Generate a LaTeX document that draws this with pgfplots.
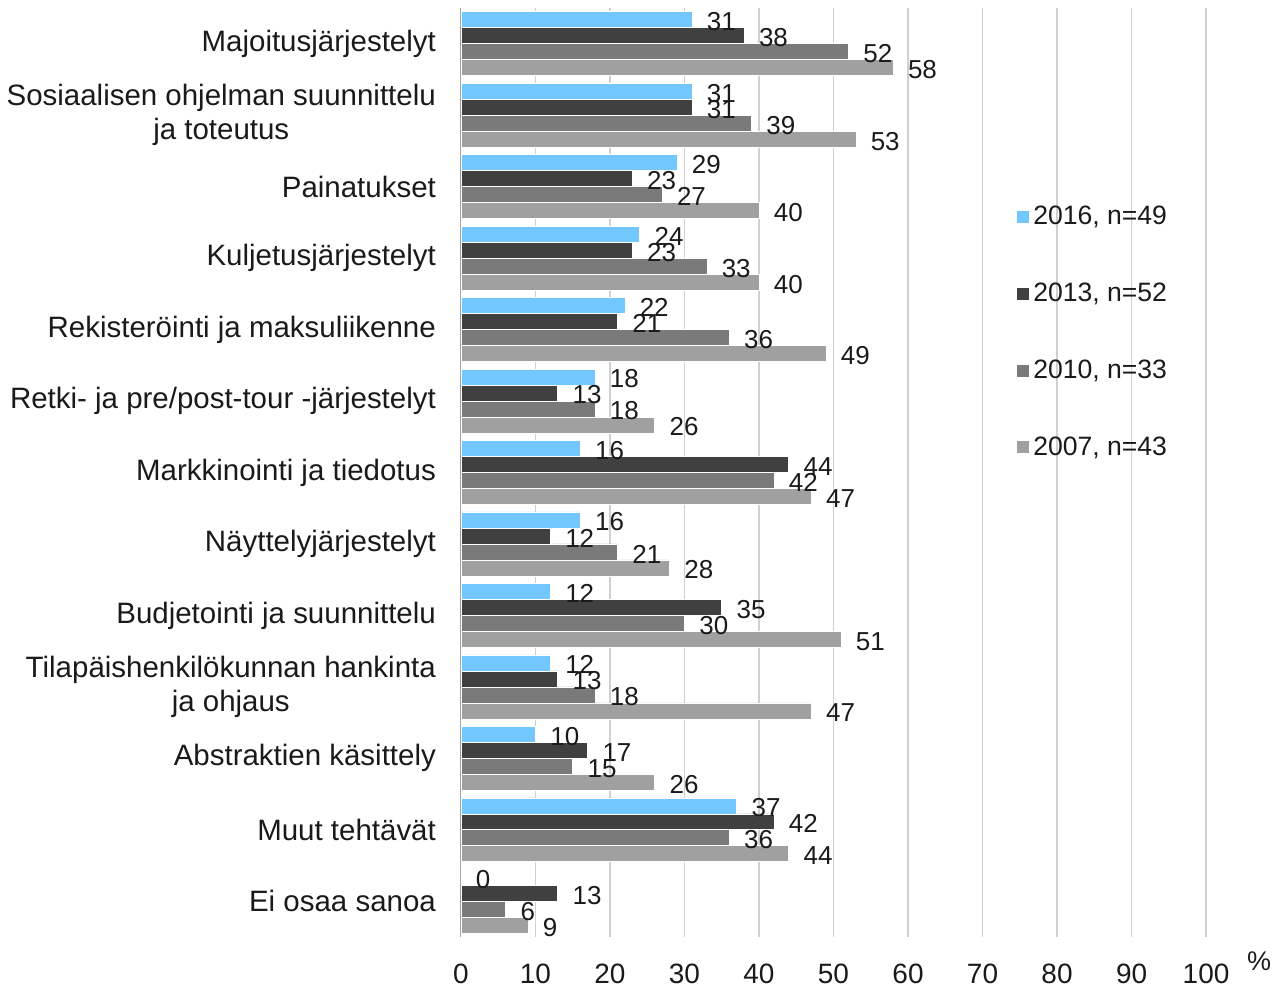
\documentclass[border=0pt]{standalone}
\usepackage{fontspec}
\setmainfont{Liberation Sans}
\usepackage{pgfplots}
\usepackage{pgfplotstable}
\pgfplotsset{compat=1.18}
\definecolor{c16}{HTML}{72C7FF}
\definecolor{c13}{HTML}{404040}
\definecolor{c10}{HTML}{7A7A7A}
\definecolor{c07}{HTML}{A0A0A0}
\definecolor{gridc}{HTML}{D0D0D0}
\definecolor{ink}{HTML}{1A1A1A}

\pgfplotstableread{
y  v16 v13 v10 v07
12 31  38  52  58
11 31  31  39  53
10 29  23  27  40
9  24  23  33  40
8  22  21  36  49
7  18  13  18  26
6  16  44  42  47
5  16  12  21  28
4  12  35  30  51
3  12  13  18  47
2  10  17  15  26
1  37  42  36  44
0  0   13  6   9
}\data

\begin{document}
\begin{tikzpicture}
\begin{axis}[
  scale only axis, width=373pt, height=465pt,
  xbar=0pt, bar width=8pt,
  xmin=0, xmax=100, ymin=-0.5, ymax=12.5,
  xtick={0,10,...,100}, xmajorgrids,
  grid style={draw=gridc, line width=0.6pt},
  ytick={0,...,12},
  yticklabels={Ei osaa sanoa, Muut tehtävät, Abstraktien käsittely,
    {Tilapäishenkilökunnan hankinta\\ja ohjaus}, Budjetointi ja suunnittelu,
    Näyttelyjärjestelyt, Markkinointi ja tiedotus,
    Retki- ja pre/post-tour -järjestelyt, Rekisteröinti ja maksuliikenne,
    Kuljetusjärjestelyt, Painatukset,
    {Sosiaalisen ohjelman suunnittelu\\ja toteutus}, Majoitusjärjestelyt},
  axis x line*=bottom, axis y line*=left,
  x axis line style={draw=none},
  y axis line style={draw=gridc!80!black, line width=0.6pt, -},
  major tick length=0pt,
  /pgf/number format/assume math mode=true,
  xticklabel style={font=\fontsize{14}{16}\selectfont, text=ink, yshift=-10pt},
  yticklabel style={font=\fontsize{14.75}{17}\selectfont, text=ink, align=center, xshift=-9pt},
  nodes near coords,
  nodes near coords style={font=\fontsize{13}{15}\selectfont, text=ink, anchor=west, xshift=4pt, yshift=-1pt},
  xlabel={\%},
  xlabel style={at={(rel axis cs:1.071,-0.026)}, anchor=center, font=\fontsize{13.5}{15}\selectfont, text=ink},
  reverse legend,
  legend cell align=left,
  legend image code/.code={\fill[#1] (-0.5pt,-3.25pt) rectangle (6pt,3.25pt);},
  legend style={at={(rel axis cs:0.744,0.651)}, anchor=west, draw=none, fill=none,
    inner sep=0pt, row sep=23.6pt, font=\fontsize{13.3}{15}\selectfont, text=ink},
]
\addplot[fill=c07, draw=white, line width=0.3pt] table[x=v07, y=y]{\data};
\addplot[fill=c10, draw=white, line width=0.3pt] table[x=v10, y=y]{\data};
\addplot[fill=c13, draw=white, line width=0.3pt] table[x=v13, y=y]{\data};
\addplot[fill=c16, draw=white, line width=0.3pt] table[x=v16, y=y]{\data};
\legend{{2007, n=43},{2010, n=33},{2013, n=52},{2016, n=49}}
\end{axis}
\path ([shift={(-230pt,-24.5pt)}]current axis.south west) rectangle ([shift={(39pt,4pt)}]current axis.north east);
\end{tikzpicture}
\end{document}
